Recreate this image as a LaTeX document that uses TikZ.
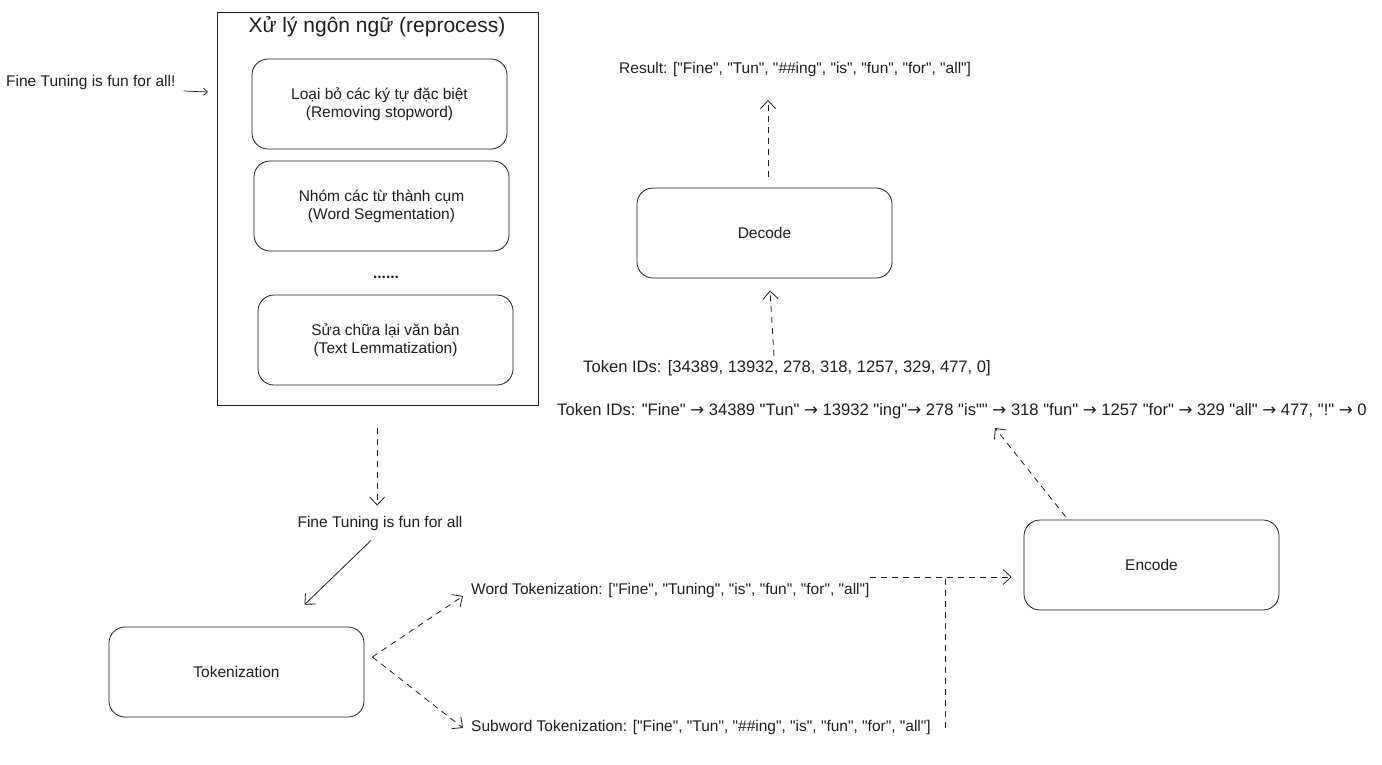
\documentclass[tikz,border=0pt]{standalone}
\usepackage{fontspec}
\setmainfont{Liberation Sans}[Ligatures=TeXOff]
\newfontfamily\symfont{DejaVu Sans}
\usetikzlibrary{arrows.meta,calc}
\definecolor{ink}{HTML}{1E1E1E}
\newcommand{\tokarrow}{{\symfont →}}

\begin{document}
\begin{tikzpicture}[x=1pt,y=-1pt,
  txt/.style={inner sep=0pt, text=ink, font=\fontsize{15.5}{18}\selectfont},
  widetxt/.style={txt, font=\fontsize{16.6}{18}\selectfont},
  stepbox/.style={draw=ink, line width=0.8pt, rounded corners=16pt,
    minimum width=255pt, minimum height=90pt, align=center, text=ink,
    font=\fontsize{15.5}{18}\selectfont},
  arr/.style={draw=ink, line width=0.8pt, -{Straight Barb[length=8pt,width=15pt]}},
  smallarr/.style={draw=ink, line width=0.7pt, -{Straight Barb[length=4pt,width=7pt]}},
  darr/.style={arr, dash pattern=on 6pt off 5pt},
  dline/.style={draw=ink, line width=0.8pt, dash pattern=on 6pt off 5pt},
]
\useasboundingbox (0,0) rectangle (1382,764);
\fill[white] (0,0) rectangle (1382,764);

% --- preprocessing frame -------------------------------------------------
\node[draw=ink, line width=1.3pt, minimum width=321pt, minimum height=393pt,
      anchor=north west, inner sep=0pt] (frame) at (217,12) {};
\node[txt, font=\fontsize{21}{24}\selectfont] (title) at (377,27) {Xử lý ngôn ngữ (reprocess)};

\node[stepbox] (clean) at (379.5,104) {Loại bỏ các ký tự đặc biệt\\(Removing stopword)};
\node[stepbox] (segment) at (381.5,206) {Nhóm các từ thành cụm\\(Word Segmentation)};
\node[txt, font=\bfseries\fontsize{15.5}{18}\selectfont] (dots) at (386,277) {......};
\node[stepbox] (lemma) at (385.5,340) {Sửa chữa lại văn bản\\(Text Lemmatization)};

% --- input sentence --------------------------------------------------------
\node[txt, anchor=west] (input) at (6,82) {Fine Tuning is fun for all!};
\draw[smallarr] ($(input.east)+(8,9)$) -- ($(frame.west |- input.east)+(-9,10)$);

% --- cleaned sentence and tokenization -------------------------------------
\node[txt] (clean-text) at (380,523) {Fine Tuning is fun for all};
\draw[darr] ($(frame.south)+(-1,22)$) -- ($(frame.south |- clean-text.north)+(-1,-10)$);

\node[stepbox] (tok) at (236.5,672) {Tokenization};
\draw[arr] ($(clean-text.south)+(-9,10)$) -- ($(tok.north)+(68,-22)$);

\node[txt, anchor=west] (word) at (471,590) {Word Tokenization: ["Fine", "Tuning", "is", "fun", "for", "all"]};
\node[txt, anchor=west] (sub) at (471,727) {Subword Tokenization: ["Fine", "Tun", "\#\#ing", "is", "fun", "for", "all"]};

\draw[darr] ($(tok.east)+(8,-15)$) -- ($(word.west)+(-8,6)$);
\draw[darr] ($(tok.east)+(8,-15)$) -- ($(sub.west)+(-8,1)$);

% --- encoding ----------------------------------------------------------------
\node[stepbox] (enc) at (1151.5,565) {Encode};
\coordinate (word-out) at (870,577);
\coordinate (join) at (945,577);
\coordinate (sub-out) at (945,728);
\draw[darr] (word-out) -- ($(enc.west)+(-12,12)$);
\draw[dline] (sub-out) -- (join);

\node[widetxt, anchor=west] (ids) at (557,411) {Token IDs: "Fine" \tokarrow{} 34389 "Tun" \tokarrow{} 13932 "ing"\tokarrow{} 278 "is"" \tokarrow{} 318 "fun" \tokarrow{} 1257 "for" \tokarrow{} 329 "all" \tokarrow{} 477, "!" \tokarrow{} 0};
\draw[darr] ($(enc.north west)+(42,-3)$) -- ($(ids.west)+(438,17)$);

\node[widetxt, anchor=west] (idlist) at (583,368) {Token IDs: [34389, 13932, 278, 318, 1257, 329, 477, 0]};

% --- decoding ----------------------------------------------------------------
\node[stepbox] (dec) at (764.5,233) {Decode};
\draw[darr] ($(idlist.west)+(191,-12)$) -- ($(dec.south)+(5.5,12)$);

\node[txt, anchor=west] (result) at (619,69) {Result: ["Fine", "Tun", "\#\#ing", "is", "fun", "for", "all"]};
\draw[darr] ($(dec.north)+(3.5,-11)$) -- ($(result.west)+(149,31)$);

\end{tikzpicture}
\end{document}
